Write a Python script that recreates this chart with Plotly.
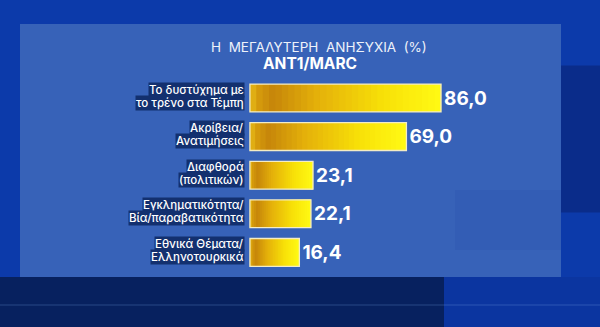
import plotly.graph_objects as go

# ---- data ----
CATEGORIES = [
    "Το δυστύχημα με<br>το τρένο στα Τέμπη",
    "Ακρίβεια/<br>Ανατιμήσεις",
    "Διαφθορά<br>(πολιτικών)",
    "Εγκληματικότητα/<br>Βία/παραβατικότητα",
    "Εθνικά Θέματα/<br>Ελληνοτουρκικά",
]
VALUES = [86.0, 69.0, 23.1, 22.1, 16.4]
TITLE = "Η  ΜΕΓΑΛΥΤΕΡΗ  ΑΝΗΣΥΧΙΑ  (%)"
SUBTITLE = "ANT1/MARC"

# ---- style ----
BAR_BASE = -7.9
N_SEG = 30
STOPS = [(0.0, (232, 186, 24)), (0.04, (214, 156, 12)), (0.12, (198, 134, 10)),
         (0.35, (228, 176, 10)), (0.7, (248, 225, 8)), (1.0, (255, 250, 20))]


def grad(t):
    for (t0, c0), (t1, c1) in zip(STOPS[:-1], STOPS[1:]):
        if t0 <= t <= t1:
            f = (t - t0) / (t1 - t0) if t1 > t0 else 0
            c = [round(a + (b - a) * f) for a, b in zip(c0, c1)]
            return "rgb(%d,%d,%d)" % tuple(c)
    return "rgb(%d,%d,%d)" % STOPS[-1][1]


fig = go.Figure()
lengths = [v - BAR_BASE for v in VALUES]
for k in range(N_SEG):
    f0 = k / N_SEG
    fig.add_trace(go.Bar(
        y=CATEGORIES,
        x=[L * (1 - f0) for L in lengths],
        base=[BAR_BASE + L * f0 for L in lengths],
        orientation="h",
        marker=dict(color=grad(f0 + 0.5 / N_SEG), line=dict(width=0)),
        width=0.72, hoverinfo="skip", showlegend=False,
    ))

# outline + value labels
fig.add_trace(go.Bar(
    y=CATEGORIES,
    x=lengths,
    base=[BAR_BASE] * len(VALUES),
    orientation="h",
    marker=dict(color="rgba(0,0,0,0)", line=dict(color="#f3ecc4", width=1.3)),
    width=0.72,
    text=[f"{v:.1f}".replace(".", ",") for v in VALUES],
    textposition="outside",
    textfont=dict(family="Inter", size=19, color="white", weight="bold"),
    cliponaxis=False, showlegend=False,
))

# category labels (one box per line)
for cat in CATEGORIES:
    lines = cat.split("<br>")
    for j, line in enumerate(lines):
        fig.add_annotation(
            x=-10.2, y=cat, xref="x", yref="y", text=line, showarrow=False,
            xanchor="right", yanchor="middle", yshift=8.5 - 13 * j,
            font=dict(family="Inter", size=11.5, color="white", weight=500),
            bgcolor="#13306f", borderpad=0,
        )

fig.add_annotation(x=0.532, y=1 - 47 / 327, xref="paper", yref="paper", text=TITLE,
                   yanchor="middle", showarrow=False,
                   font=dict(family="Inter", size=13.5, color="#eef2fa"))
fig.add_annotation(x=0.517, y=1 - 64 / 327, xref="paper", yref="paper", text=SUBTITLE,
                   yanchor="middle", showarrow=False,
                   font=dict(family="Inter", size=15.5, color="white", weight="bold"))

# background decoration
shapes = [
    dict(type="rect", xref="paper", yref="paper", x0=0, x1=0.74, y0=0, y1=1 - 277 / 327,
         fillcolor="#07215f", line_width=0, layer="below"),
    dict(type="rect", xref="paper", yref="paper", x0=0.74, x1=1, y0=0, y1=1 - 277 / 327,
         fillcolor="#0b35a0", line_width=0, layer="below"),
    dict(type="rect", xref="paper", yref="paper", x0=0.935, x1=1, y0=0.35, y1=0.8,
         fillcolor="#0a2c8a", line_width=0, layer="below"),
    dict(type="rect", xref="paper", yref="paper", x0=20 / 600, x1=561 / 600,
         y0=1 - 277 / 327, y1=1 - 24 / 327,
         fillcolor="#3762b8", line_width=0, layer="below"),
    dict(type="rect", xref="paper", yref="paper", x0=455 / 600, x1=561 / 600,
         y0=1 - 250 / 327, y1=1 - 190 / 327,
         fillcolor="#335db5", line_width=0, layer="below"),
    dict(type="line", xref="paper", yref="paper", x0=0, x1=1, y0=1 - 305 / 327, y1=1 - 305 / 327,
         line=dict(color="rgba(120,160,230,0.3)", width=1), layer="below"),
]

fig.update_layout(
    width=600, height=327,
    margin=dict(l=0, r=0, t=0, b=0),
    paper_bgcolor="#0c3aaa", plot_bgcolor="rgba(0,0,0,0)",
    barmode="overlay",
    shapes=shapes,
    xaxis=dict(range=[-266 / 2.035, (600 - 266) / 2.035], visible=False, fixedrange=True),
    yaxis=dict(categoryorder="array", categoryarray=CATEGORIES,
               range=[(327 - 98) / 38.6, -98 / 38.6], visible=False),
)

fig.write_html("out.html")
